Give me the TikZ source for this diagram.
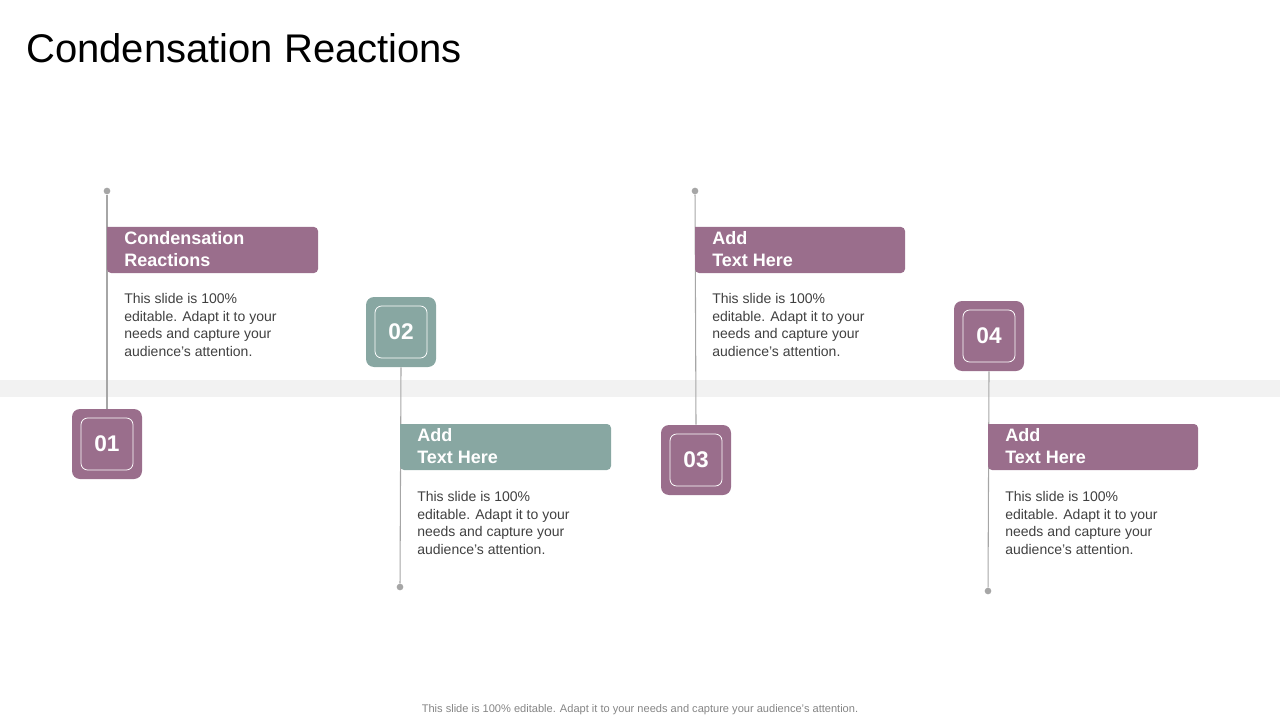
\documentclass[tikz,border=0pt]{standalone}
\usepackage{fontspec}
\setmainfont{Liberation Sans}
\usetikzlibrary{positioning}
\definecolor{plum}{HTML}{9A6E8C}
\definecolor{sage}{HTML}{88A7A2}
\definecolor{stem}{HTML}{A6A6A6}
\definecolor{band}{HTML}{F2F2F2}
\definecolor{bodytxt}{HTML}{404040}
\tikzset{
  numbox/.style={minimum size=52.5pt,rounded corners=6pt,inner sep=0pt,
    text=white,font=\bfseries\fontsize{17}{17}\selectfont},
  inbox/.style={draw=white,line width=0.6pt,minimum size=39pt,rounded corners=5pt},
  headbox/.style={minimum width=158pt,minimum height=34.5pt,inner sep=0pt,
    rounded corners=3pt},
  headtxt/.style={anchor=north west,align=left,text=white,inner sep=0pt,
    font=\bfseries\fontsize{13.5}{16.5}\selectfont},
  bodytext/.style={anchor=north west,align=left,text=bodytxt,inner sep=0pt,
    font=\fontsize{10.5}{13.3}\selectfont},
  stemline/.style={draw=stem,line width=0.8pt},
  stemdot/.style={circle,fill=stem,inner sep=0pt,minimum size=5pt}
}
\begin{document}
\begin{tikzpicture}[x=0.75pt,y=-0.75pt]
\useasboundingbox (0,0) rectangle (1280,720);
\node[anchor=west,inner sep=0pt,font=\fontsize{30}{30}\selectfont] (title) at (26,48) {Condensation Reactions};
\fill[band] (0,380) rectangle (1280,397);
% item 01
\node[stemdot] (d1) at (107,191) {};
\node[numbox,fill=plum] (n1) at (107,444) {01};
\node[inbox] at (n1) {};
\draw[stemline] (d1) -- (n1.north);
\fill[plum,rounded corners=3pt] (107,227) -- (318,227) -- (318,273) -- (107,273) [sharp corners] -- cycle;
\node[headtxt] (h1) at (124,231) {Condensation\\Reactions};
\node[bodytext] (b1) at (124,293) {This slide is 100\%\\editable. Adapt it to your\\needs and capture your\\audience's attention.};
% item 02
\node[stemdot] (d2) at (400,587) {};
\node[numbox,fill=sage] (n2) at (401,332) {02};
\node[inbox] at (n2) {};
\draw[stemline] (n2.south) -- (d2);
\fill[sage,rounded corners=3pt] (400,424) -- (611,424) -- (611,470) -- (400,470) [sharp corners] -- cycle;
\node[headtxt] (h2) at (417,428) {Add\\Text Here};
\node[bodytext] (b2) at (417,491) {This slide is 100\%\\editable. Adapt it to your\\needs and capture your\\audience's attention.};
% item 03
\node[stemdot] (d3) at (695,191) {};
\node[numbox,fill=plum] (n3) at (696,460) {03};
\node[inbox] at (n3) {};
\draw[stemline] (d3) -- (n3.north);
\fill[plum,rounded corners=3pt] (695,227) -- (905,227) -- (905,273) -- (695,273) [sharp corners] -- cycle;
\node[headtxt] (h3) at (712,231) {Add\\Text Here};
\node[bodytext] (b3) at (712,293) {This slide is 100\%\\editable. Adapt it to your\\needs and capture your\\audience's attention.};
% item 04
\node[stemdot] (d4) at (988,591) {};
\node[numbox,fill=plum] (n4) at (989,336) {04};
\node[inbox] at (n4) {};
\draw[stemline] (n4.south) -- (d4);
\fill[plum,rounded corners=3pt] (988,424) -- (1198,424) -- (1198,470) -- (988,470) [sharp corners] -- cycle;
\node[headtxt] (h4) at (1005,428) {Add\\Text Here};
\node[bodytext] (b4) at (1005,491) {This slide is 100\%\\editable. Adapt it to your\\needs and capture your\\audience's attention.};
% footer
\node[text=stem!80!black,font=\fontsize{8.3}{10}\selectfont,inner sep=0pt] (foot) at (640,710) {This slide is 100\% editable. Adapt it to your needs and capture your audience’s attention.};
\end{tikzpicture}
\end{document}
